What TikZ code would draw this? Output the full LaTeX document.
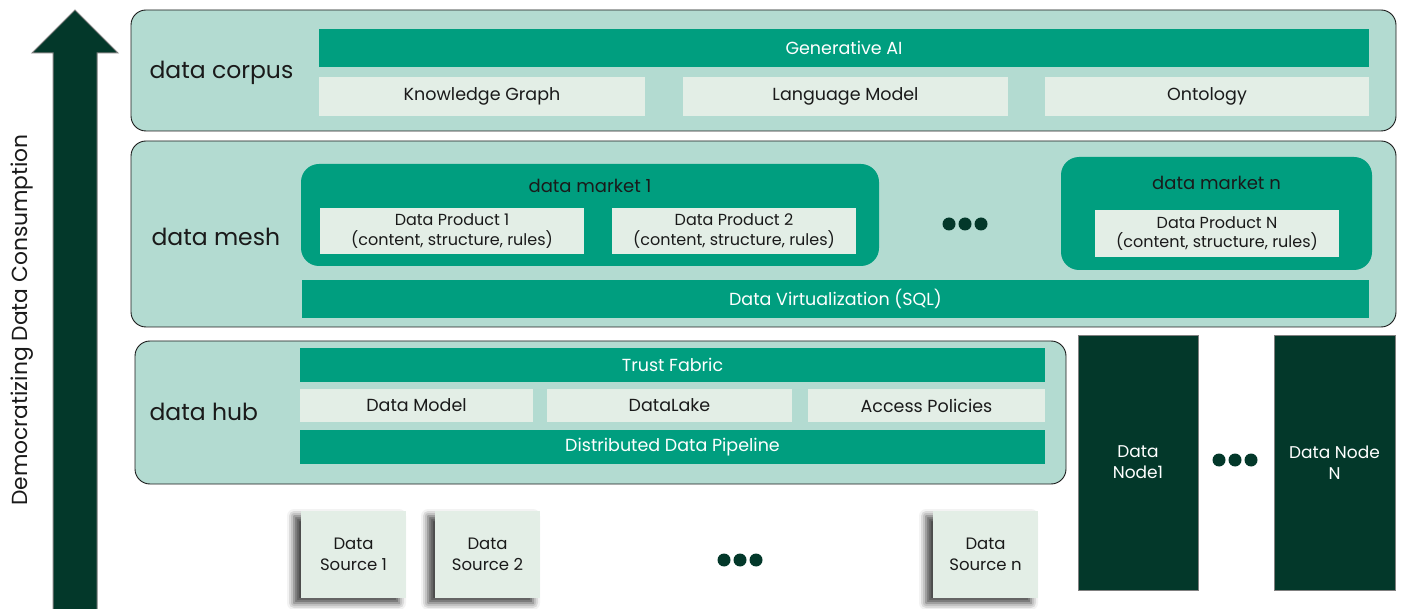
\documentclass[tikz,border=0pt]{standalone}
\usepackage{fontspec}
\setmainfont{Poppins}
\usepackage{tikz}
\usetikzlibrary{shadows.blur}

\definecolor{layerfill}{HTML}{B3DBD1}
\definecolor{teal}{HTML}{009E7F}
\definecolor{pale}{HTML}{E3EEE6}
\definecolor{forest}{HTML}{03382A}
\definecolor{ink}{HTML}{1A1A1A}

\tikzset{
  layer/.style={draw=ink, line width=0.9pt, fill=layerfill, rounded corners=15pt},
  bar/.style={fill=teal, text=white, font=\fontsize{17.5}{20}\selectfont},
  cell/.style={fill=pale, text=ink, font=\fontsize{17.5}{20}\selectfont},
  market/.style={fill=teal, rounded corners=18pt},
  prodbox/.style={fill=pale, text=ink, align=center, inner sep=0pt,
    font=\fontsize{16}{19.5}\selectfont},
  srcbox/.style={fill=pale, text=ink, align=center, inner sep=0pt,
    font=\fontsize{16.5}{21}\selectfont,
    blur shadow={shadow xshift=-7pt, shadow yshift=-5pt, shadow blur radius=7pt, shadow opacity=75}},
  dnode/.style={fill=forest, draw=gray, line width=0.8pt, text=white, align=center,
    font=\fontsize{17}{21}\selectfont},
  tag/.style={anchor=west, text=ink, font=\fontsize{23.5}{26}\selectfont},
  title/.style={text=ink, font=\fontsize{18}{20}\selectfont},
}

\newcommand{\dotrow}[2]{%
  \foreach \dx in {-16,0,16} \fill[forest] ({#1+\dx},#2) circle (6.5pt);}

\begin{document}
\begin{tikzpicture}[x=1pt,y=-1pt]

\useasboundingbox (0,0) rectangle (1403,609);

% Arrow
\draw[gray, line width=1pt, fill=forest]
  (53,612) -- (53,53) -- (32,53) -- (75,10) -- (118,53) -- (97,53) -- (97,612);
\node[rotate=90, text=ink, font=\fontsize{21.8}{24}\selectfont] (axis) at (22,320)
  {Democratizing Data Consumption};

% data corpus
\node[layer, minimum width=1265pt, minimum height=121pt] (corpus) at (763.5,70.5) {};
\node[tag] (corpuslbl) at (146,73) {data corpus};
\node[bar, minimum width=1050pt, minimum height=38pt] (genai) at (844,48) {Generative AI};
\node[cell, minimum width=326pt, minimum height=39pt] (kg) at (482,96.5) {Knowledge Graph};
\node[cell, minimum width=325pt, minimum height=39pt] (lm) at (845.5,96.5) {Language Model};
\node[cell, minimum width=324pt, minimum height=39pt] (onto) at (1207,96.5) {Ontology};

% data mesh
\node[layer, minimum width=1265pt, minimum height=186pt] (mesh) at (763.5,234) {};
\node[tag] (meshlbl) at (148,237) {data mesh};
\node[market, minimum width=578pt, minimum height=102pt] (mkt1) at (590,215) {};
\node[title] (mkt1lbl) at (590,186) {data market 1};
\node[prodbox, minimum width=264pt, minimum height=46pt] (dp1) at (452,231)
  {Data Product 1\\(content, structure, rules)};
\node[prodbox, minimum width=244pt, minimum height=46pt] (dp2) at (734,231)
  {Data Product 2\\(content, structure, rules)};
\dotrow{965}{224}
\node[market, minimum width=311pt, minimum height=113pt] (mktn) at (1216.5,213.5) {};
\node[title] (mktnlbl) at (1216.5,183) {data market n};
\node[prodbox, minimum width=244pt, minimum height=47pt] (dpn) at (1217,233.5)
  {Data Product N\\(content, structure, rules)};
\node[bar, minimum width=1067pt, minimum height=38pt] (virt) at (835.5,299)
  {Data Virtualization (SQL)};

% data hub
\node[layer, minimum width=931pt, minimum height=143pt] (hub) at (600.5,412.5) {};
\node[tag] (hublbl) at (146,412) {data hub};
\node[bar, minimum width=745pt, minimum height=34pt] (trust) at (672.5,365) {Trust Fabric};
\node[cell, minimum width=233pt, minimum height=33pt] (model) at (416.5,405.5) {Data Model};
\node[cell, minimum width=245pt, minimum height=33pt] (lake) at (669.5,405.5) {DataLake};
\node[cell, minimum width=237pt, minimum height=33pt] (policy) at (926.5,405.5) {Access Policies};
\node[bar, minimum width=745pt, minimum height=34pt] (pipe) at (672.5,447)
  {Distributed Data Pipeline};

% Data sources
\node[srcbox, minimum width=105pt, minimum height=87pt] (src1) at (353.5,554.5) {Data\\Source 1};
\node[srcbox, minimum width=105pt, minimum height=87pt] (src2) at (487.5,554.5) {Data\\Source 2};
\dotrow{740}{560}
\node[srcbox, minimum width=105pt, minimum height=87pt] (srcn) at (985.5,554.5) {Data\\Source n};

% Data nodes
\node[dnode, minimum width=120pt, minimum height=255pt] (dn1) at (1138,462.5) {Data\\Node1};
\dotrow{1235}{460}
\node[dnode, minimum width=121pt, minimum height=255pt] (dnn) at (1334.5,462.5) {Data Node\\N};

\end{tikzpicture}
\end{document}
